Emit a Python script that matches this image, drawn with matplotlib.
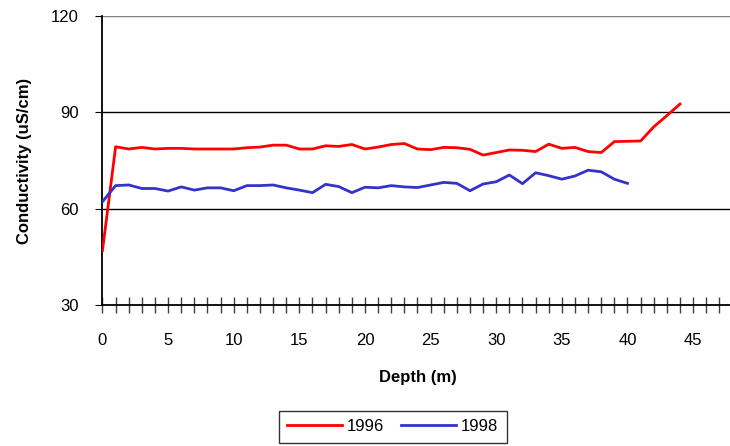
import matplotlib.pyplot as plt
import numpy as np

plt.rcParams['font.family'] = ['Liberation Sans', 'DejaVu Sans']

# conductivity profiles, one value per metre of depth
depth_1996 = list(range(0, 45))
cond_1996 = [47.0, 79.3, 78.6, 79.1, 78.6, 78.8, 78.8, 78.6, 78.6, 78.6,
             78.6, 79.0, 79.2, 79.8, 79.8, 78.6, 78.6, 79.6, 79.4, 80.0,
             78.6, 79.2, 80.0, 80.3, 78.6, 78.4, 79.1, 79.0, 78.5, 76.7,
             77.5, 78.3, 78.2, 77.8, 80.1, 78.8, 79.1, 77.8, 77.5, 80.9,
             81.0, 81.1, 85.5, 89.0, 92.6]

depth_1998 = list(range(0, 41))
cond_1998 = [62.2, 67.2, 67.4, 66.3, 66.3, 65.5, 66.8, 65.8, 66.5, 66.5,
             65.6, 67.2, 67.2, 67.4, 66.5, 65.8, 65.0, 67.6, 66.9, 65.0,
             66.7, 66.5, 67.2, 66.8, 66.6, 67.4, 68.2, 67.9, 65.6, 67.7,
             68.4, 70.5, 67.8, 71.2, 70.3, 69.2, 70.2, 72.0, 71.5, 69.2,
             67.9]

y_ticks = [30, 60, 90, 120]
x_labels = [0, 5, 10, 15, 20, 25, 30, 35, 40, 45]

fig = plt.figure(figsize=(7.3, 4.46), dpi=100)
ax = fig.add_axes([0.1404, 0.316, 0.863, 0.648])

for y in y_ticks[1:]:
    ax.axhline(y, color='black' if y < 120 else '#808080', lw=1, zorder=1)

ax.plot(depth_1996, cond_1996, color='#ff0000', lw=2, label='1996', zorder=3)
ax.plot(depth_1998, cond_1998, color='#3333cc', lw=2, label='1998', zorder=3)

ax.set_xlim(0, 48)
ax.set_ylim(30, 120)
ax.set_yticks(y_ticks)
ax.set_xticks(x_labels)
ax.set_xticks(np.arange(0, 49, 1), minor=True)
ax.tick_params(axis='x', which='both', direction='inout', length=12, width=1,
               color='#404040', labelsize=12, pad=14)
ax.tick_params(axis='y', direction='out', length=5, labelsize=12, pad=12)

for side in ['top', 'right']:
    ax.spines[side].set_visible(False)
ax.spines['left'].set_linewidth(1.3)
ax.spines['bottom'].set_linewidth(1.3)

ax.set_xlabel('Depth (m)', fontsize=12, fontweight='bold', labelpad=16)
ax.set_ylabel('Conductivity (uS/cm)', fontsize=12, fontweight='bold', labelpad=14)

leg = fig.legend(loc='center', bbox_to_anchor=(0.538, 0.043), ncol=2,
                 fontsize=12, frameon=True, fancybox=False, handlelength=3.3,
                 borderpad=0.5, columnspacing=1.0, handletextpad=0.3)
leg.get_frame().set_edgecolor('black')
leg.get_frame().set_linewidth(1)

fig.savefig('out.png', dpi=100)
